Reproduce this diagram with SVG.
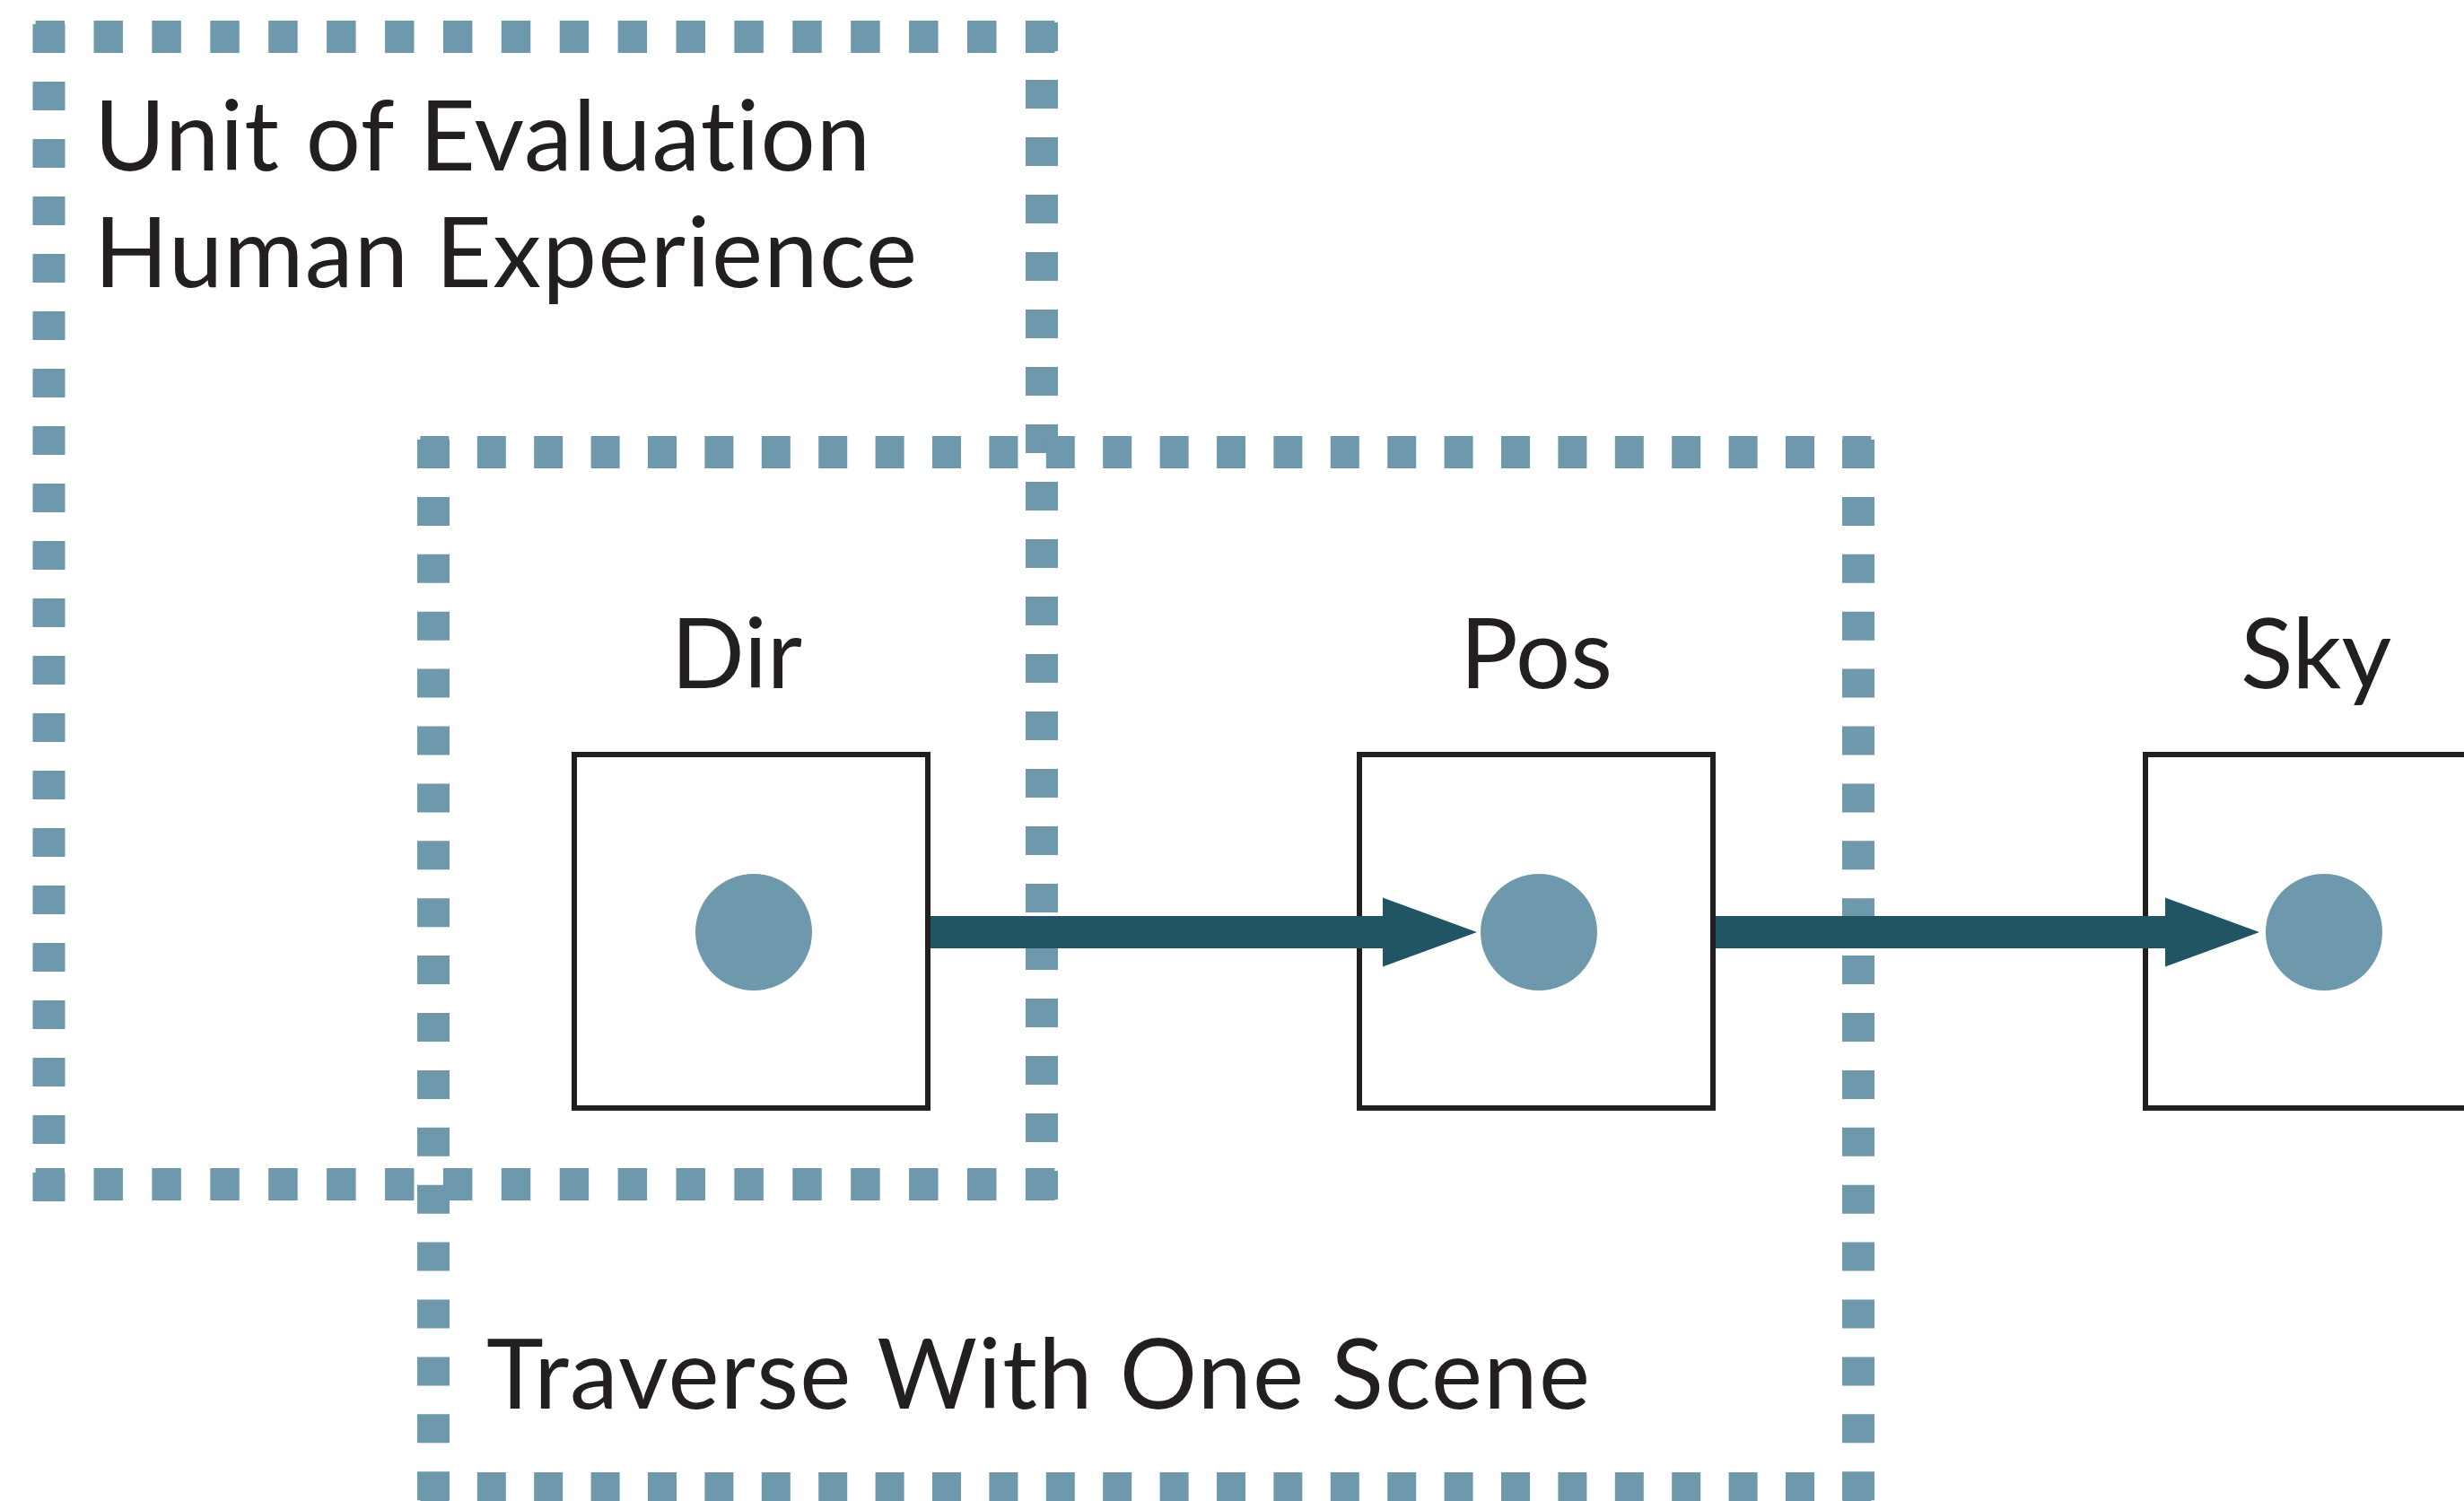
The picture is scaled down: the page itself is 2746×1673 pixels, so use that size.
<svg xmlns="http://www.w3.org/2000/svg" width="2746" height="1673" viewBox="0 0 2746 1673">
  <style>
    .dash1h { stroke: #6E98AB; stroke-width: 36; stroke-dasharray: 32.45 32.45; fill: none; }
    .dash1v { stroke: #6E98AB; stroke-width: 36; stroke-dasharray: 32 32; fill: none; }
    .dash2h { stroke: #6E98AB; stroke-width: 36; stroke-dasharray: 32 31.4; fill: none; }
    .dash2v { stroke: #6E98AB; stroke-width: 36; stroke-dasharray: 32 31.9; fill: none; }
    .node rect { fill: #FFFFFF; stroke: #231F20; stroke-width: 6; }
    .node circle { fill: #6E98AB; }
    .lbl { font-family: Lato, "Open Sans", sans-serif; font-size: 108px; fill: #231F20; font-variant-ligatures: none; font-feature-settings: "liga" 0, "clig" 0; }
    .conn { stroke: #225564; stroke-width: 36; fill: none; }
  </style>
  <defs>
    <marker id="arrow" markerUnits="userSpaceOnUse" markerWidth="110" markerHeight="80" viewBox="0 -40 110 80" refX="4" refY="0" orient="auto">
      <path d="M0,-38.5 L105,0 L0,38.5 Z" fill="#225564"/>
    </marker>
  </defs>
  <rect x="0" y="0" width="2746" height="1673" fill="#FFFFFF"/>

  <g id="group-unit-of-evaluation">
    <line class="dash1h" x1="39.6" y1="41" x2="1180" y2="41"/>
    <line class="dash1h" x1="39.6" y1="1320" x2="1180" y2="1320"/>
    <line class="dash1v" x1="54.5" y1="27" x2="54.5" y2="1339"/>
    <line class="dash1v" x1="1161" y1="25" x2="1161" y2="1339"/>
    <text class="lbl" x="105" y="190" textLength="865" lengthAdjust="spacing">Unit of Evaluation</text>
    <text class="lbl" x="105" y="320" textLength="917" lengthAdjust="spacing">Human Experience</text>
  </g>

  <g id="group-traverse">
    <line class="dash2h" x1="468.4" y1="504" x2="2090" y2="504"/>
    <line class="dash2h" x1="468.4" y1="1659" x2="2090" y2="1659"/>
    <line class="dash2v" x1="483" y1="490" x2="483" y2="1673"/>
    <line class="dash2v" x1="2071" y1="490" x2="2071" y2="1673"/>
    <text class="lbl" x="542" y="1570" textLength="1230" lengthAdjust="spacing">Traverse With One Scene</text>
  </g>

  <g id="node-dir" class="node">
    <rect x="640" y="841" width="394" height="394"/>
    <circle cx="840" cy="1039" r="65"/>
    <text class="lbl" x="821" y="767" text-anchor="middle">Dir</text>
  </g>

  <g id="node-pos" class="node">
    <rect x="1515" y="841" width="394" height="394"/>
    <circle cx="1715" cy="1039" r="65"/>
    <text class="lbl" x="1712" y="767" text-anchor="middle">Pos</text>
  </g>

  <g id="node-sky" class="node">
    <rect x="2391" y="841" width="394" height="394"/>
    <circle cx="2590" cy="1039" r="65"/>
    <text class="lbl" x="2581" y="767" text-anchor="middle">Sky</text>
  </g>

  <g id="connectors">
    <path class="conn" d="M1037,1039 H1545" marker-end="url(#arrow)"/>
    <path class="conn" d="M1912,1039 H2417" marker-end="url(#arrow)"/>
  </g>
</svg>
